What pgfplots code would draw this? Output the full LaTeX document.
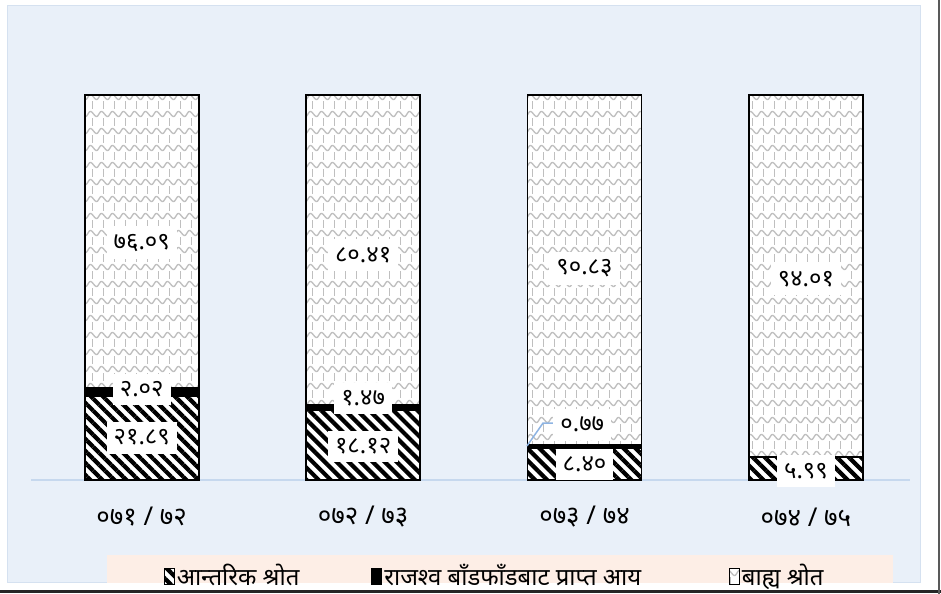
\documentclass[border=0pt]{standalone}
\usepackage{pgfplots}
\pgfplotsset{compat=1.18}
\usepackage{pgfplotstable}
\usepackage{fontspec}
\setmainfont[Script=Devanagari]{Noto Sans}
\usetikzlibrary{patterns.meta}

\definecolor{panel}{HTML}{E9F0F9}
\definecolor{panelrule}{HTML}{D5E1F0}
\definecolor{baseline}{HTML}{C6D8EE}
\definecolor{peach}{HTML}{FDEEE6}
\definecolor{leader}{HTML}{8EB4E3}

% light grey "scales" texture of the external-source segment
\tikzdeclarepattern{
  name=scales,
  type=uncolored,
  bounding box={(-0.5bp,-0.5bp) and (11.5bp,9bp)},
  tile size={(11bp,8.5bp)},
  code={
    \draw[line width=0.65bp] (0bp,2bp) .. controls (2bp,6.5bp) and (3.5bp,-2.5bp) .. (5.5bp,2bp)
      .. controls (7.5bp,6.5bp) and (9bp,-2.5bp) .. (11bp,2bp);
    \draw[line width=0.65bp] (2.2bp,4.6bp) -- (2.2bp,8.5bp);
    \draw[line width=0.65bp] (7.7bp,4.6bp) -- (7.7bp,8.5bp);
  }
}

\pgfplotstableread{
x int rev ext
0 21.89 2.02 76.09
1 18.12 1.47 80.41
2 8.40 0.77 90.83
3 5.99 0 94.01
}\bars

\pgfplotstableread{
x y lab
0 61.6 ७६.०९
0 23.5 २.०२
0 11.0 २१.८९
1 58.5 ८०.४१
1 21.2 १.४७
1 8.7 १८.१२
2 54.9 ९०.८३
1.99 14.5 ०.७७
2 4.1 ८.४०
3 52.2 ९४.०१
3 2.3 ५.९९
}\labels

\begin{document}
\begin{tikzpicture}
\useasboundingbox (0,0) rectangle (470.5bp,-297bp);
\begin{scope}[x=0.5bp,y=-0.5bp]
  \fill[white] (0,0) rectangle (941,594);
  \filldraw[fill=panel,draw=panelrule,line width=0.5bp] (8,6) rectangle (920.5,583);
  \fill[peach] (107,555) rectangle (893,583);
\end{scope}

\begin{axis}[
  at={(15.5bp,-240bp)}, anchor=south west,
  scale only axis, width=439.5bp, height=192.5bp,
  xmin=-0.5, xmax=3.47, ymin=0, ymax=100,
  ybar stacked, bar width=0.515,
  axis x line*=bottom, axis y line=none,
  x axis line style={draw=baseline, line width=0.75bp},
  xtick={0,1,2,3},
  xticklabels={०७१ / ७२, ०७२ / ७३, ०७३ / ७४, ०७४ / ७५},
  major tick length=0pt,
  xticklabel style={anchor=center, yshift=-18.5bp, font=\fontsize{13}{15}\selectfont},
  clip=false,
  legend columns=3,
  legend style={at={(0.1508,-0.2494)}, anchor=west, draw=none, fill=none,
    inner sep=0pt, nodes={inner xsep=1bp},
    font=\fontsize{12}{14}\selectfont,
    /tikz/column 2/.style={column sep=35bp},
    /tikz/column 4/.style={column sep=43bp}},
  legend image code/.code={\draw[#1,line width=0.4bp] (0bp,-4bp) rectangle (5bp,4bp);},
]
\addplot[draw=black, line width=0.9bp, fill=white,
  postaction={pattern={Lines[angle=-45,distance=4.25bp,line width=2.1bp]}}]
  table[x=x,y=int]{\bars};
\addlegendentry{आन्तरिक श्रोत}
\addplot[draw=black, line width=0.9bp, fill=black]
  table[x=x,y=rev]{\bars};
\addlegendentry{राजश्व बाँडफाँडबाट प्राप्त आय}
\addplot[draw=black, line width=0.9bp, fill=white,
  postaction={pattern=scales, pattern color=black!25}]
  table[x=x,y=ext]{\bars};
\addlegendentry{बाह्य श्रोत}
\end{axis}

\begin{axis}[
  at={(15.5bp,-240bp)}, anchor=south west,
  scale only axis, width=439.5bp, height=192.5bp,
  xmin=-0.5, xmax=3.47, ymin=0, ymax=100,
  hide axis, clip=false,
]
\addplot[leader, line width=0.75bp] coordinates {(1.740,8.83) (1.8126,14.8) (1.858,14.8)};
\addplot[only marks, mark=*, mark size=0pt, mark options={draw=none,fill=none},
  nodes near coords, point meta=explicit symbolic,
  every node near coord/.append style={anchor=center, fill=white, text=black,
    inner xsep=3.5bp, inner ysep=4bp, font=\fontsize{12}{14}\selectfont}]
  table[x=x,y=y,meta=lab]{\labels};
\end{axis}

\begin{scope}[x=0.5bp,y=-0.5bp]
  \fill[black!85] (0,590.5) rectangle (941,593);
  \fill[black!65] (938.5,0) rectangle (940,594);
\end{scope}
\end{tikzpicture}
\end{document}
